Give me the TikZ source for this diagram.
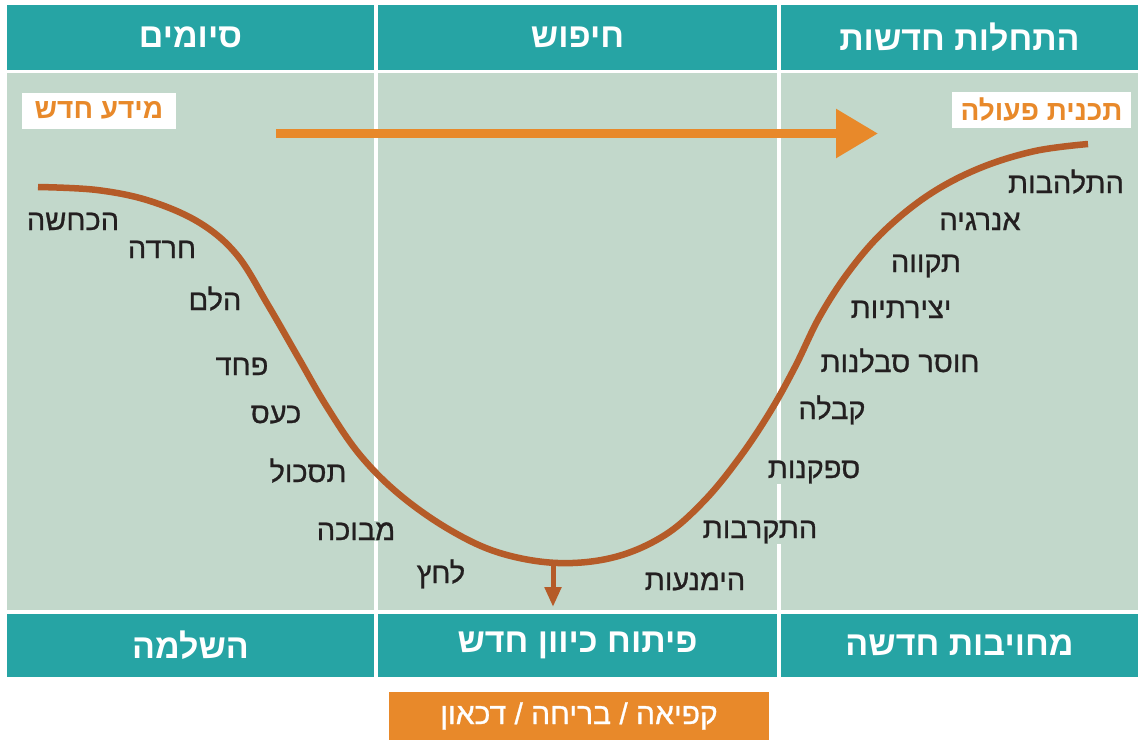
\documentclass[tikz,border=0pt]{standalone}
\usepackage{fontspec}
\setmainfont{Liberation Sans}
\newfontfamily\heb[Script=Hebrew]{Liberation Sans}
\newfontfamily\hebm[Script=Hebrew,FakeBold=0.9]{Liberation Sans}
\TeXXeTstate=1
\usetikzlibrary{arrows.meta}
\definecolor{tealc}{HTML}{26A4A4}
\definecolor{greenbg}{HTML}{C2D8CB}
\definecolor{orangec}{HTML}{E8892A}
\definecolor{brownc}{HTML}{B55B28}
\definecolor{inkc}{HTML}{231F20}
\newcommand{\hb}[1]{{\beginR #1\endR}}
\tikzset{
  cell/.style={fill=tealc, draw=none, inner sep=0pt, text=white,
    font=\heb\bfseries\fontsize{34}{38}\selectfont, minimum height=#1},
  body/.style={fill=greenbg, draw=none, inner sep=0pt, minimum height=537pt},
  lbl/.style={text=inkc, fill=greenbg, inner sep=1pt, anchor=base,
    font=\hebm\fontsize{29}{32}\selectfont},
  tag/.style={fill=white, text=orangec, inner sep=0pt, minimum height=36pt,
    font=\heb\bfseries\fontsize{28}{32}\selectfont},
  curve/.style={draw=brownc, line width=6.5pt},
}
\begin{document}
\begin{tikzpicture}[x=1pt,y=-1pt]
\useasboundingbox (0,0) rectangle (1138,740);
\fill[white] (0,0) rectangle (1138,740);
% header row
\node[cell=65pt, minimum width=367pt] (h1) at (190.5,37) {\hb{סיומים}};
\node[cell=65pt, minimum width=399pt] (h2) at (577.5,37) {\hb{חיפוש}};
\node[cell=65pt, minimum width=357pt] (h3) at (959.5,37) {\hb{התחלות חדשות}};
% body
\node[body, minimum width=367pt] (b1) at (190.5,341.5) {};
\node[body, minimum width=399pt] (b2) at (577.5,341.5) {};
\node[body, minimum width=357pt] (b3) at (959.5,341.5) {};
% bottom row
\node[cell=63pt, minimum width=367pt] (f1) at (190.5,645.5) {\hb{השלמה}};
\node[cell=63pt, minimum width=399pt] (f2) at (577.5,645.5) {\hb{פיתוח כיוון חדש}};
\node[cell=63pt, minimum width=357pt] (f3) at (959.5,645.5) {\hb{מחויבות חדשה}};
% orange box
\node[fill=orangec, text=white, inner sep=0pt, minimum width=380pt, minimum height=48pt,
  font=\hebm\fontsize{30}{34}\selectfont] (stuck) at (579,716) {\hb{קפיאה / בריחה / דכאון}};
% tags
\node[tag, minimum width=154pt] (info) at (99,110.5) {\hb{מידע חדש}};
\node[tag, minimum width=179pt] (plan) at (1041.5,109.5) {\hb{תכנית פעולה}};
% orange arrow
\coordinate (aS) at (276,133.5);
\coordinate (aE) at (878,133.5);
\draw[orangec, line width=9pt, -{Triangle[length=42pt,width=47pt]}] (aS) -- (aE);
% labels left
\node[lbl] (l1) at (73,230) {\hb{הכחשה}};
\node[lbl] (l2) at (162,258) {\hb{חרדה}};
\node[lbl] (l3) at (215,310) {\hb{הלם}};
\node[lbl] (l4) at (242,375) {\hb{פחד}};
\node[lbl] (l5) at (276,423) {\hb{כעס}};
\node[lbl] (l6) at (308,482) {\hb{תסכול}};
\node[lbl] (l7) at (356,540) {\hb{מבוכה}};
\node[lbl] (l8) at (441,583) {\hb{לחץ}};
% labels right
\node[lbl] (r1) at (695,590) {\hb{הימנעות}};
\node[lbl] (r2) at (760,538) {\hb{התקרבות}};
\node[lbl] (r3) at (814,478) {\hb{ספקנות}};
\node[lbl] (r4) at (832,419) {\hb{קבלה}};
\node[lbl] (r5) at (900,372) {\hb{חוסר סבלנות}};
\node[lbl] (r6) at (901,318) {\hb{יצירתיות}};
\node[lbl] (r7) at (926,272) {\hb{תקווה}};
\node[lbl] (r8) at (980,230) {\hb{אנרגיה}};
\node[lbl] (r9) at (1066,193) {\hb{התלהבות}};
% curve
\draw[curve] plot[smooth, tension=0.6] coordinates {
 (38,187) (97,190) (150,201) (200,223) (237,255) (268,305) (298,357)
 (327,407) (360,455) (400,495) (450,530) (500,553) (558,563)
 (615,557) (665,535) (705,500) (740,457) (770,412) (795,367) (820,316)
 (850,270) (885,230) (930,194) (980,168) (1035,151) (1088,144)};
\coordinate (dS) at (553,563);
\coordinate (dE) at (553,607);
\draw[brownc, line width=5pt, -{Triangle[length=20pt,width=16pt]}] (dS) -- (dE);
\end{tikzpicture}
\end{document}
